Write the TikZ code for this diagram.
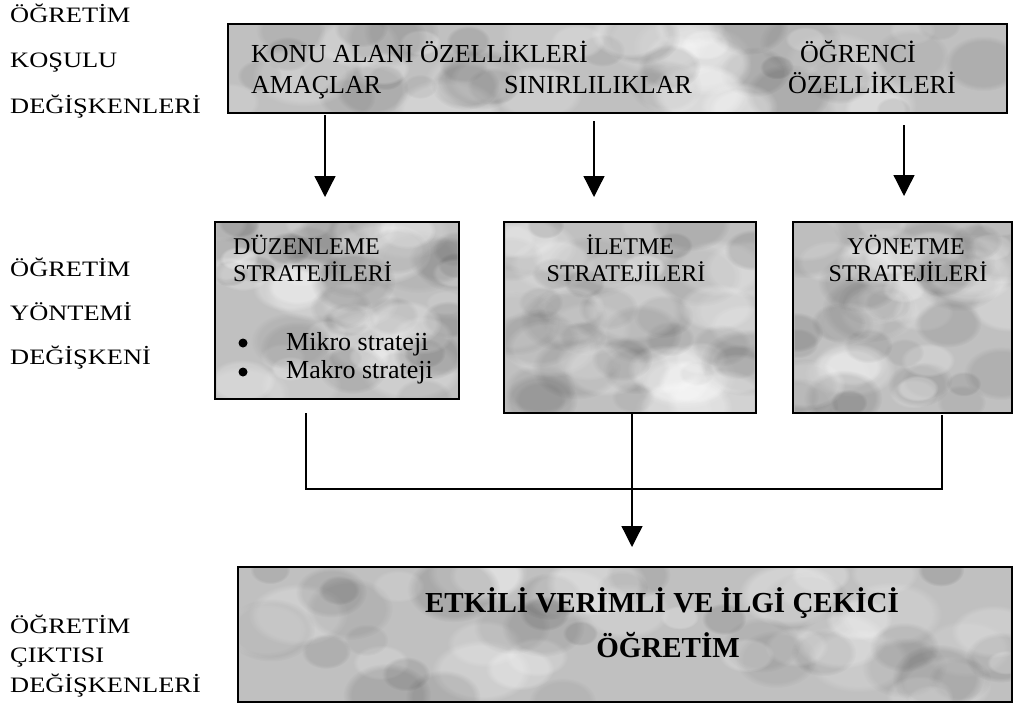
\documentclass[tikz,border=0pt]{standalone}
\usepackage{fontspec}
\setmainfont{Liberation Serif}
\newfontfamily\lab[FakeStretch=1.2]{Liberation Serif}
\usetikzlibrary{arrows.meta,fadings}
\definecolor{boxgray}{RGB}{192,192,192}
\newcommand\mottle[4]{%
  \begin{scope}
  \clip (#1+1.5,#2+1.5) rectangle (#3-1.5,#4-1.5);
  \foreach \k in {1,...,60}{%
    \pgfmathsetmacro\mx{#1+rnd*(#3-#1)}%
    \pgfmathsetmacro\my{#2+rnd*(#4-#2)}%
    \pgfmathsetmacro\mr{12+rnd*22}%
    \pgfmathsetmacro\mo{0.12+0.18*rnd}%
    \ifodd\k
      \fill[white,opacity=\mo,path fading=circle with fuzzy edge 20 percent] (\mx,\my) ellipse ({\mr*1.6} and {\mr});
    \else
      \fill[black,opacity=\mo*0.4,path fading=circle with fuzzy edge 20 percent] (\mx,\my) ellipse ({\mr*1.4} and {\mr});
    \fi
  }
  \end{scope}}
\begin{document}
\begin{tikzpicture}[x=1pt,y=-1pt,
  panel/.style={draw=black,line width=1.8pt,fill=boxgray,inner sep=0pt},
  lbl/.style={anchor=base west,inner sep=0pt,font=\lab\fontsize{22}{24}\selectfont},
  toptxt/.style={anchor=base west,inner sep=0pt,font=\fontsize{26}{30}\selectfont},
  midtxt/.style={anchor=base,inner sep=0pt,font=\fontsize{24}{28}\selectfont},
  bultxt/.style={anchor=base west,inner sep=0pt,font=\fontsize{26}{28}\selectfont},
  dot/.style={circle,fill=black,inner sep=0pt,minimum size=9pt},
  outtxt/.style={anchor=base,inner sep=0pt,font=\bfseries\fontsize{29}{33}\selectfont},
  conn/.style={line width=1.3pt},
  arr/.style={line width=1.3pt,-{Triangle[width=21pt,length=21pt]}}]
\useasboundingbox (0,0) rectangle (1019,707);
\pgfmathsetseed{11}

% left labels
\node[lbl] (l1) at (10,22) {ÖĞRETİM};
\node[lbl] (l2) at (10,67) {KOŞULU};
\node[lbl] (l3) at (10,113) {DEĞİŞKENLERİ};
\node[lbl] (l4) at (10,276) {ÖĞRETİM};
\node[lbl] (l5) at (10,320) {YÖNTEMİ};
\node[lbl] (l6) at (10,364) {DEĞİŞKENİ};
\node[lbl] (l7) at (10,633) {ÖĞRETİM};
\node[lbl] (l8) at (10,662) {ÇIKTISI};
\node[lbl] (l9) at (10,692) {DEĞİŞKENLERİ};

% panels
\node[panel,minimum width=779pt,minimum height=89pt] (top) at (617.5,68.5) {};
\mottle{228}{24}{1007}{113}
\node[panel,minimum width=244pt,minimum height=177pt] (b1) at (337,310.5) {};
\mottle{215}{222}{459}{399}
\node[panel,minimum width=252pt,minimum height=191pt] (b2) at (630,317.5) {};
\mottle{504}{222}{756}{413}
\node[panel,minimum width=219pt,minimum height=191pt] (b3) at (902.5,317.5) {};
\mottle{793}{222}{1012}{413}
\node[panel,minimum width=774pt,minimum height=135pt] (out) at (625,634.5) {};
\mottle{238}{567}{1012}{702}

% top panel text
\node[toptxt] (t1) at (251,62) {KONU ALANI ÖZELLİKLERİ};
\node[toptxt] (t2) at (800,62) {ÖĞRENCİ};
\node[toptxt] (t3) at (251,93) {AMAÇLAR};
\node[toptxt] (t4) at (504,93) {SINIRLILIKLAR};
\node[toptxt] (t5) at (788,93) {ÖZELLİKLERİ};

% middle panel text
\node[anchor=base west,inner sep=0pt,font=\fontsize{24}{28}\selectfont] (d1) at (233,254) {DÜZENLEME};
\node[anchor=base west,inner sep=0pt,font=\fontsize{24}{28}\selectfont] (d2) at (233,281) {STRATEJİLERİ};
\node[dot] (bu1) at (243,343) {};
\node[dot] (bu2) at (243,372) {};
\node[bultxt] (m1) at (286,350) {Mikro strateji};
\node[bultxt] (m2) at (286,378) {Makro strateji};

\node[midtxt] (i1) at (630,254) {İLETME};
\node[midtxt] (i2) at (626,281) {STRATEJİLERİ};
\node[midtxt] (y1) at (906,254) {YÖNETME};
\node[midtxt] (y2) at (908,281) {STRATEJİLERİ};

% bottom panel text
\node[outtxt] (o1) at (662,612) {ETKİLİ VERİMLİ VE İLGİ ÇEKİCİ};
\node[outtxt] (o2) at (668,657) {ÖĞRETİM};

% arrows from top panel
\coordinate (s1) at (325,115);
\coordinate (e1) at (325,197);
\coordinate (s2) at (594,121);
\coordinate (e2) at (594,197);
\coordinate (s3) at (904,125);
\coordinate (e3) at (904,196);
\draw[arr] (s1) -- (e1);
\draw[arr] (s2) -- (e2);
\draw[arr] (s3) -- (e3);

% merge connectors
\coordinate (c1) at (306,413);
\coordinate (c3) at (942,415);
\coordinate (j) at (632,489);
\coordinate (e4) at (632,547);
\draw[conn] (c1) |- (j);
\draw[conn] (c3) |- (j);
\draw[arr] (b2.south -| j) -- (e4);
\end{tikzpicture}
\end{document}
